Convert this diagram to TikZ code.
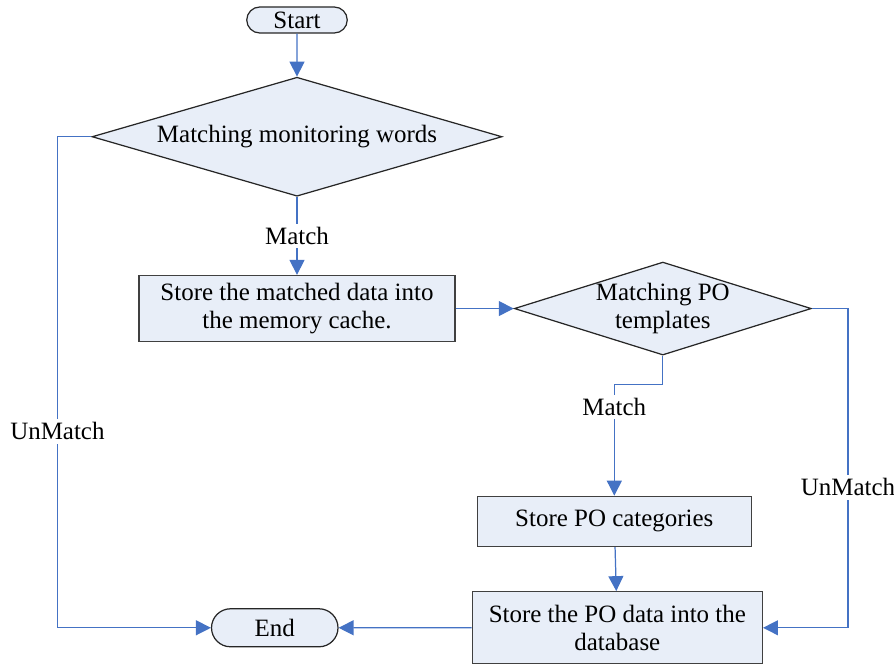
\documentclass[tikz,border=0pt]{standalone}
\usepackage{fontspec}
\setmainfont{Liberation Serif}
\usetikzlibrary{shapes.geometric,shapes.misc,positioning,arrows.meta}
\definecolor{boxfill}{RGB}{232,238,248}
\definecolor{flowline}{RGB}{68,114,196}

\begin{document}
\begin{tikzpicture}[
    >={Triangle[length=8.5pt,width=8.5pt]},
    font=\fontsize{14.2}{16}\selectfont,
    term/.style={rounded rectangle, draw=black!85, fill=boxfill, line width=0.7pt, inner sep=1pt},
    decide/.style={diamond, draw=black!85, fill=boxfill, line width=0.7pt, inner sep=0pt, align=center},
    proc/.style={rectangle, draw=black!75, fill=boxfill, line width=0.8pt, align=center},
    flow/.style={color=flowline, line width=0.7pt},
    lbl/.style={fill=white, text=black, inner sep=2pt}
]
\useasboundingbox (0,0) rectangle (17.88,-13.34);

\node[term, minimum width=2.08cm, minimum height=0.52cm] (start) at (5.94,-0.4) {Start};
\node[decide, shape aspect=3.45, minimum width=8.2cm, minimum height=2.38cm, below=0.86cm of start] (d1) {Matching monitoring words};
\node[proc, minimum width=6.32cm, minimum height=1.32cm, below=1.56cm of d1] (r1) {Store the matched data into\\the memory cache.};
\node[decide, shape aspect=3.2, minimum width=5.94cm, minimum height=1.86cm, right=1.16cm of r1] (d2) {Matching PO\\templates};
\node[proc, minimum width=5.48cm, minimum height=1cm, below=2.8cm of d2, xshift=-0.97cm] (r2) {Store PO categories};
\node[proc, minimum width=5.8cm, minimum height=1.44cm, below=0.88cm of r2, xshift=0.06cm] (r3) {Store the PO data into the\\database};
\node[term, minimum width=2.6cm, minimum height=0.76cm, left=2.66cm of r3] (end) {End};

\path[flow,->]
(start) edge (d1)
(d1) edge node[lbl]{Match} (r1)
(r1) edge (d2)
(r2) edge (r3)
(r3) edge (end);

\draw[flow,->] (d2.south) -- ++(0,-0.58) -| node[lbl, pos=0.6]{Match} (r2.north);
\draw[flow,->] (d1.west) -- ++(-0.68,0) |- node[lbl, pos=0.3]{UnMatch} (end.west);
\draw[flow,->] (d2.east) -- ++(0.72,0) |- node[lbl, pos=0.28]{UnMatch} (r3.east);

\end{tikzpicture}
\end{document}
